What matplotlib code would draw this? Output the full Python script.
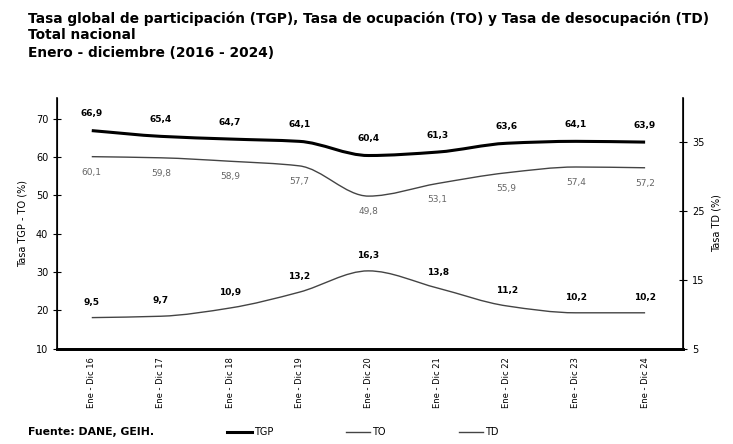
import matplotlib
matplotlib.use("Agg")
import matplotlib.pyplot as plt
import numpy as np
from matplotlib.path import Path
from matplotlib.patches import PathPatch

# Datos
periodos = ["Ene - Dic 16", "Ene - Dic 17", "Ene - Dic 18", "Ene - Dic 19", "Ene - Dic 20",
            "Ene - Dic 21", "Ene - Dic 22", "Ene - Dic 23", "Ene - Dic 24"]
tgp = [66.9, 65.4, 64.7, 64.1, 60.4, 61.3, 63.6, 64.1, 63.9]
to = [60.1, 59.8, 58.9, 57.7, 49.8, 53.1, 55.9, 57.4, 57.2]
td = [9.5, 9.7, 10.9, 13.2, 16.3, 13.8, 11.2, 10.2, 10.2]


def smooth_path(x, y):
    # linea suavizada (tangentes monotonas) dibujada con beziers de matplotlib
    x = np.asarray(x, float)
    y = np.asarray(y, float)
    d = np.diff(y) / np.diff(x)
    m = np.zeros_like(y)
    m[0], m[-1] = d[0], d[-1]
    for i in range(1, len(y) - 1):
        if d[i - 1] * d[i] > 0:
            m[i] = 2 / (1 / d[i - 1] + 1 / d[i])
    verts = [(x[0], y[0])]
    codes = [Path.MOVETO]
    for i in range(len(x) - 1):
        h = x[i + 1] - x[i]
        verts += [(x[i] + h / 3, y[i] + m[i] * h / 3),
                  (x[i + 1] - h / 3, y[i + 1] - m[i + 1] * h / 3),
                  (x[i + 1], y[i + 1])]
        codes += [Path.CURVE4] * 3
    return Path(verts, codes)


plt.rcParams['font.family'] = ['DejaVu Sans']
fig = plt.figure(figsize=(7.33, 4.44), dpi=100)
ax = fig.add_axes([0.078, 0.215, 0.854, 0.565])
ax2 = ax.twinx()

x = np.arange(len(periodos))

ax.add_patch(PathPatch(smooth_path(x, tgp), fill=False, color='black', lw=2.2))
ax.add_patch(PathPatch(smooth_path(x, to), fill=False, color='#444444', lw=1.0))
ax2.add_patch(PathPatch(smooth_path(x, td), fill=False, color='#444444', lw=1.0))

for xi, v in zip(x, tgp):
    ax.annotate(f"{v:.1f}".replace('.', ','), (xi, v), xytext=(0, 9), textcoords='offset points',
                ha='center', va='bottom', fontsize=6.5, fontweight='bold')
for xi, v in zip(x, to):
    ax.annotate(f"{v:.1f}".replace('.', ','), (xi, v), xytext=(0, -8), textcoords='offset points',
                ha='center', va='top', fontsize=6.5, color='#666666')
for xi, v in zip(x, td):
    ax2.annotate(f"{v:.1f}".replace('.', ','), (xi, v), xytext=(0, 8), textcoords='offset points',
                 ha='center', va='bottom', fontsize=6.5, fontweight='bold')

ax.set_xlim(-0.5, 8.55)
ax.set_ylim(10, 75.5)
ax2.set_ylim(5, 41.5)
ax.set_yticks([10, 20, 30, 40, 50, 60, 70])
ax2.set_yticks([5, 15, 25, 35])
ax.set_xticks(x)
ax.set_xticklabels(periodos, rotation=90, fontsize=6)
ax.tick_params(axis='x', length=0, pad=6)
ax.tick_params(axis='y', direction='inout', length=6, labelsize=7)
ax2.tick_params(axis='y', direction='inout', length=6, labelsize=7)

for a in (ax, ax2):
    a.spines['top'].set_visible(False)
ax.spines['bottom'].set_linewidth(2)
ax2.spines['bottom'].set_linewidth(2)
ax.spines['left'].set_linewidth(1.2)
ax2.spines['right'].set_linewidth(1.2)

ax.set_ylabel("Tasa TGP - TO (%)", fontsize=7, labelpad=6)
ax2.set_ylabel("Tasa TD (%)", fontsize=7, labelpad=5)

fig.text(0.038, 0.958, "Tasa global de participación (TGP), Tasa de ocupación (TO) y Tasa de desocupación (TD)",
         fontsize=9.9, fontweight='bold', va='center')
fig.text(0.038, 0.922, "Total nacional", fontsize=9.9, fontweight='bold', va='center')
fig.text(0.038, 0.880, "Enero - diciembre (2016 - 2024)", fontsize=9.9, fontweight='bold', va='center')

fig.text(0.038, 0.027, "Fuente: DANE, GEIH.", fontsize=7.8, fontweight='bold', va='center')

# leyenda
h1, = ax.plot([], [], color='black', lw=2.2, label='TGP')
h2, = ax.plot([], [], color='#444444', lw=1.0, label='TO')
h3, = ax.plot([], [], color='#444444', lw=1.0, label='TD')
fig.legend(handles=[h1, h2, h3], loc='center', bbox_to_anchor=(0.495, 0.027), ncol=3, frameon=False,
           fontsize=7, handlelength=2.5, handletextpad=0.2, columnspacing=7.5)

fig.savefig("out.png", dpi=100)
